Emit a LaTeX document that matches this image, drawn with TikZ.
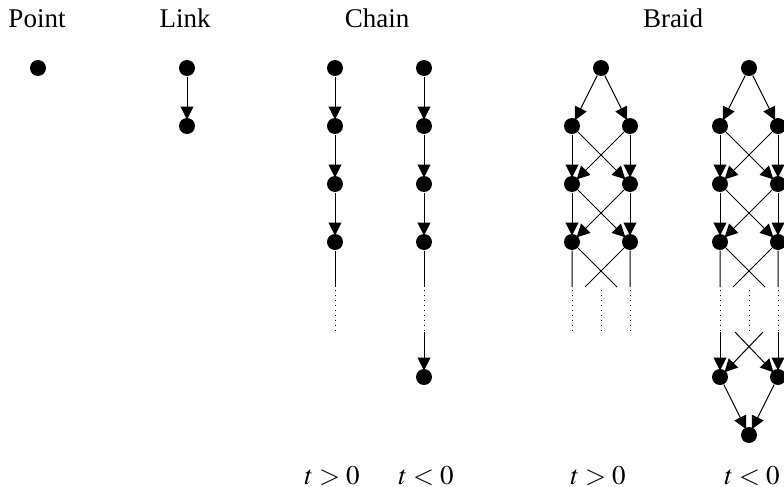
\documentclass[tikz,border=0pt]{standalone}
\usepackage{mathptmx}
\usepackage{fontspec}
\setmainfont{Liberation Serif}
\usepackage{tikz}
\usetikzlibrary{positioning,calc}
\usetikzlibrary{arrows.meta,shapes}
\tikzstyle{dot} = [circle,fill=black,draw=none,inner sep=0pt,minimum size=8pt]
\tikzstyle{line} = [-{Triangle[length=6.5pt,width=6.5pt]},shorten >=-1pt]
\tikzstyle{title} = [anchor=base,inner sep=0pt,font=\fontsize{13.5}{16}\selectfont]

\begin{document}
\begin{tikzpicture}[x=0.5pt,y=-0.5pt,line width=0.5pt,node distance=29pt]
        \useasboundingbox (0,0) rectangle (784,487);
        \node[title] (tpoint) at (37,27) {Point};
        \node[title] (tlink) at (185,27) {Link};
        \node[title] (tchain) at (377,27) {Chain};
        \node[title] (tbraid) at (673,27) {Braid};
        \node[title] (tcpos) at (332,484) {$t>0$};
        \node[title] (tcneg) at (426,484) {$t<0$};
        \node[title] (tbpos) at (598,484) {$t>0$};
        \node[title] (tbneg) at (752,484) {$t<0$};
        % point and link
        \path node[dot] (p0) at (38,68) {};
        \path[line] node[dot] (l0) at (187,68) {};
        \path[line] node[dot,below of=l0] (l1) {}
        (l0) edge (l1);
        % chain, t>0
        \path[line] node[dot] (c0) at (335,68) {};
        \path[line] node[dot,below of=c0] (c1) {}
        (c0) edge (c1);
        \path[line] node[dot,below of=c1] (c2) {}
        (c1) edge (c2);
        \path[line] node[dot,below of=c2] (c3) {}
        (c2) edge (c3);
        \coordinate (c3s) at ($(c3)+(0,45)$);
        \coordinate (c3d) at ($(c3)+(0,48)$);
        \coordinate (c3e) at ($(c3)+(0,90)$);
        \draw (c3) -- (c3s);
        \draw[dotted] (c3d) -- (c3e);
        % chain, t<0
        \path[line] node[dot] (d0) at (424,68) {};
        \path[line] node[dot,below of=d0] (d1) {}
        (d0) edge (d1);
        \path[line] node[dot,below of=d1] (d2) {}
        (d1) edge (d2);
        \path[line] node[dot,below of=d2] (d3) {}
        (d2) edge (d3);
        \coordinate (d3s) at ($(d3)+(0,45)$);
        \coordinate (d3d) at ($(d3)+(0,48)$);
        \coordinate (d3e) at ($(d3)+(0,90)$);
        \draw (d3) -- (d3s);
        \draw[dotted] (d3d) -- (d3e);
        \path[line] node[dot] (d4) at (424,377) {}
        (d3e) edge (d4);
        % braid, t>0
        \path[line] node[dot] (b0) at (601,68) {};
        \path[line] node[dot,below of=b0,xshift=-14.5pt] (b1l) {}
        (b0) edge (b1l);
        \path[line] node[dot,below of=b0,xshift=14.5pt] (b1r) {}
        (b0) edge (b1r);
        \path[line] node[dot,below of=b1l] (b2l) {}
        (b1l) edge (b2l) (b1r) edge (b2l);
        \path[line] node[dot,below of=b1r] (b2r) {}
        (b1r) edge (b2r) (b1l) edge (b2r);
        \path[line] node[dot,below of=b2l] (b3l) {}
        (b2l) edge (b3l) (b2r) edge (b3l);
        \path[line] node[dot,below of=b2r] (b3r) {}
        (b2r) edge (b3r) (b2l) edge (b3r);
        \coordinate (b3ls) at ($(b3l)+(0,45)$);
        \coordinate (b3lx) at ($(b3l)+(45,45)$);
        \coordinate (b3rs) at ($(b3r)+(0,45)$);
        \coordinate (b3rx) at ($(b3r)+(-45,45)$);
        \draw (b3l) -- (b3ls) (b3l) -- (b3lx);
        \draw (b3r) -- (b3rs) (b3r) -- (b3rx);
        \draw[dotted] ($(b3l)+(0,48)$) -- ($(b3l)+(0,90)$);
        \draw[dotted] ($(b3l)+(29,48)$) -- ($(b3l)+(29,90)$);
        \draw[dotted] ($(b3r)+(0,48)$) -- ($(b3r)+(0,90)$);
        % braid, t<0
        \path[line] node[dot] (e0) at (749,68) {};
        \path[line] node[dot,below of=e0,xshift=-14.5pt] (e1l) {}
        (e0) edge (e1l);
        \path[line] node[dot,below of=e0,xshift=14.5pt] (e1r) {}
        (e0) edge (e1r);
        \path[line] node[dot,below of=e1l] (e2l) {}
        (e1l) edge (e2l) (e1r) edge (e2l);
        \path[line] node[dot,below of=e1r] (e2r) {}
        (e1r) edge (e2r) (e1l) edge (e2r);
        \path[line] node[dot,below of=e2l] (e3l) {}
        (e2l) edge (e3l) (e2r) edge (e3l);
        \path[line] node[dot,below of=e2r] (e3r) {}
        (e2r) edge (e3r) (e2l) edge (e3r);
        \coordinate (e3ls) at ($(e3l)+(0,45)$);
        \coordinate (e3lx) at ($(e3l)+(45,45)$);
        \coordinate (e3rs) at ($(e3r)+(0,45)$);
        \coordinate (e3rx) at ($(e3r)+(-45,45)$);
        \draw (e3l) -- (e3ls) (e3l) -- (e3lx);
        \draw (e3r) -- (e3rs) (e3r) -- (e3rx);
        \draw[dotted] ($(e3l)+(0,48)$) -- ($(e3l)+(0,90)$);
        \draw[dotted] ($(e3l)+(29,48)$) -- ($(e3l)+(29,90)$);
        \draw[dotted] ($(e3r)+(0,48)$) -- ($(e3r)+(0,90)$);
        \coordinate (e4ls) at ($(e3l)+(0,90)$);
        \coordinate (e4lx) at ($(e3l)+(15,90)$);
        \coordinate (e4rs) at ($(e3r)+(0,90)$);
        \coordinate (e4rx) at ($(e3r)+(-15,90)$);
        \path[line] node[dot] (e4l) at (720,377) {}
        (e4ls) edge (e4l) (e4rx) edge (e4l);
        \path[line] node[dot] (e4r) at (778,377) {}
        (e4rs) edge (e4r) (e4lx) edge (e4r);
        \path[line] node[dot,below of=e4l,xshift=14.5pt] (e5) {}
        (e4l) edge (e5) (e4r) edge (e5);
    \end{tikzpicture}
\end{document}
